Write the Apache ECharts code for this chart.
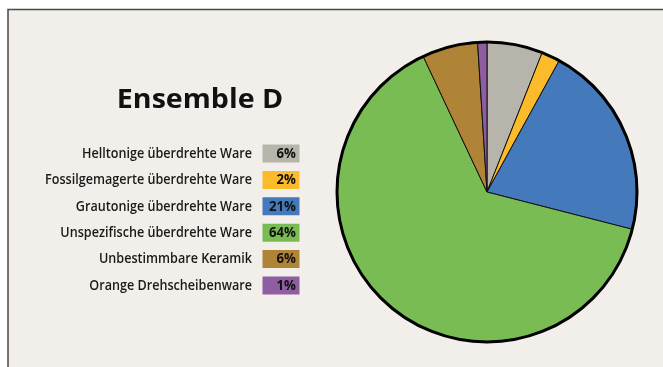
<!DOCTYPE html>
<html>
<head>
<meta charset="utf-8">
<script src="https://cdn.jsdelivr.net/npm/echarts@6/dist/echarts.min.js"></script>
<style>
  html, body { margin: 0; padding: 0; background: #ffffff; }
  #chart { width: 663px; height: 367px; }
</style>
</head>
<body>
<div id="chart"></div>
<script>
// Ceramic groups of Ensemble D and their shares (percent)
const categories = [
  'Helltonige überdrehte Ware',
  'Fossilgemagerte überdrehte Ware',
  'Grautonige überdrehte Ware',
  'Unspezifische überdrehte Ware',
  'Unbestimmbare Keramik',
  'Orange Drehscheibenware'
];
const shares = [6, 2, 21, 64, 6, 1];
const colors = ['#b7b4ac', '#fbbb2b', '#4479bb', '#79bc53', '#b08437', '#8e5da2'];
const title = 'Ensemble D';

const chart = echarts.init(document.getElementById('chart'), null, { renderer: 'canvas' });

const bg = '#f2efeb';
const labelFont = '"Open Sans", "Noto Sans", sans-serif';

// Legend rows: right-aligned name plus a coloured chip holding the percentage.
// Text is squeezed horizontally to get a condensed look.
const legendGraphics = [];
const rowTop = 153.5;
const rowStep = 26.4;
categories.forEach((name, i) => {
  const cy = rowTop + i * rowStep;
  legendGraphics.push({
    type: 'text',
    x: 252, y: cy,
    scaleX: 0.84,
    style: {
      text: name,
      textAlign: 'right',
      textVerticalAlign: 'middle',
      font: '600 15px ' + labelFont,
      fill: '#1a1a1a'
    }
  });
  legendGraphics.push({
    type: 'rect',
    shape: { x: 262.5, y: cy - 9, width: 37, height: 18 },
    style: { fill: colors[i] }
  });
  legendGraphics.push({
    type: 'text',
    x: 296, y: cy,
    scaleX: 0.88,
    style: {
      text: shares[i] + '%',
      textAlign: 'right',
      textVerticalAlign: 'middle',
      font: 'bold 15px ' + labelFont,
      fill: '#111111'
    }
  });
});

chart.setOption({
  backgroundColor: '#ffffff',
  animation: false,
  color: colors,
  graphic: [
    {
      type: 'rect',
      z: -10,
      shape: { x: 8, y: 9.5, width: 680, height: 380 },
      style: { fill: bg, stroke: '#4a4a4a', lineWidth: 1.5 }
    },
    {
      type: 'text',
      x: 200, y: 101,
      scaleX: 1.1,
      style: {
        text: title,
        textAlign: 'center',
        textVerticalAlign: 'middle',
        font: 'bold 26px ' + labelFont,
        fill: '#111111'
      }
    }
  ].concat(legendGraphics),
  series: [
    {
      type: 'pie',
      center: [487, 192],
      radius: [0, 150],
      startAngle: 90,
      clockwise: true,
      label: { show: false },
      labelLine: { show: false },
      silent: true,
      itemStyle: { borderColor: '#111111', borderWidth: 1 },
      data: categories.map((name, i) => ({ name: name, value: shares[i] }))
    },
    {
      // heavy outline around the whole disc
      type: 'pie',
      center: [487, 192],
      radius: [0, 150],
      silent: true,
      label: { show: false },
      labelLine: { show: false },
      itemStyle: { color: 'transparent', borderColor: '#000000', borderWidth: 3 },
      data: [{ value: 1, name: 'outline' }],
      z: 3
    }
  ]
});
</script>
</body>
</html>
